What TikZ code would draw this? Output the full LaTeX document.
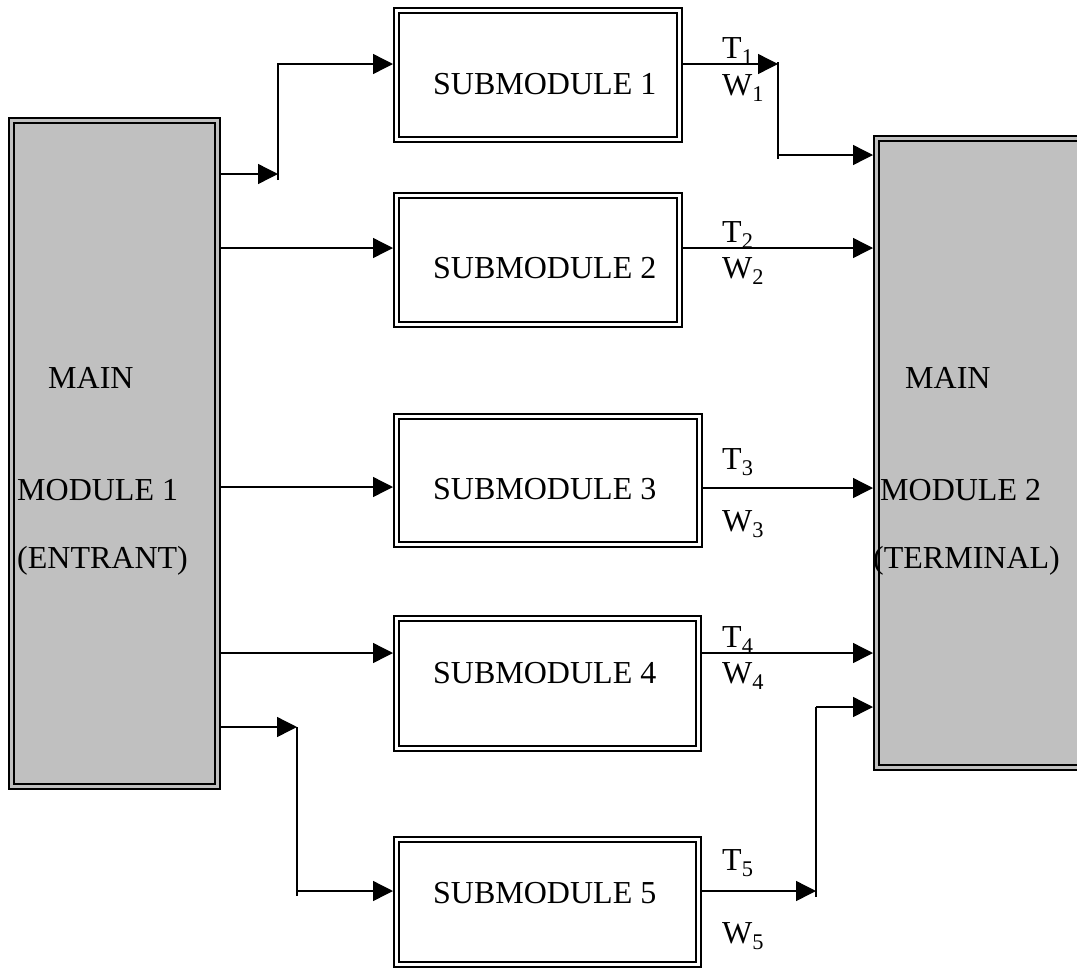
\documentclass[tikz,border=0pt]{standalone}
\usepackage{fontspec}
\setmainfont{Liberation Serif}
\usetikzlibrary{arrows.meta}
\definecolor{boxgray}{RGB}{192,192,192}
\tikzset{
  mainbox/.style={draw, line width=2.2pt, double=boxgray, double distance=2.6pt,
                  fill=boxgray, outer sep=3.5pt, inner sep=0pt},
  subbox/.style={draw, line width=2.3pt, double=white, double distance=2.4pt,
                 outer sep=3.5pt, inner sep=0pt},
  txt/.style={anchor=base west, inner sep=0pt, font=\fontsize{32}{38}\selectfont},
  wire/.style={line width=1.4pt},
  arr/.style={wire, -{Triangle[length=20pt,width=20pt]}}
}
\begin{document}
\begin{tikzpicture}[x=1pt,y=-1pt]
\useasboundingbox (0,0) rectangle (1077,970);

% main modules
\node[mainbox, minimum width=206pt, minimum height=666pt] (main1) at (114.5,453.5) {};
\node[mainbox, minimum width=205pt, minimum height=629pt] (main2) at (979,453) {};
\node[txt] (main1a) at (48,388) {MAIN};
\node[txt] (main1b) at (17,500) {MODULE 1};
\node[txt] (main1c) at (17,568) {(ENTRANT)};
\node[txt] (main2a) at (905,388) {MAIN};
\node[txt] (main2b) at (880,500) {MODULE 2};
\node[txt] (main2c) at (873,568) {(TERMINAL)};

% submodules
\node[subbox, minimum width=283pt, minimum height=129pt] (sub1) at (538,75) {};
\node[subbox, minimum width=283pt, minimum height=129pt] (sub2) at (538,260) {};
\node[subbox, minimum width=303pt, minimum height=128pt] (sub3) at (548,480.5) {};
\node[subbox, minimum width=302pt, minimum height=130pt] (sub4) at (547.5,683.5) {};
\node[subbox, minimum width=302pt, minimum height=125pt] (sub5) at (547.5,902) {};
\foreach \i/\y in {1/94, 2/278, 3/499, 4/683, 5/903}
  \node[txt] (sub\i text) at (433,\y) {SUBMODULE \i};

% main module 1 -> submodules
\coordinate (a1) at (278,174);
\coordinate (b1) at (278,64);
\draw[arr] (main1.east |- a1) -- (a1);
\draw[arr] ([yshift=-6pt]a1) -- (b1) -- (sub1.west |- b1);
\draw[arr] (main1.east |- 0,248) -- (sub2.west |- 0,248);
\draw[arr] (main1.east |- 0,487) -- (sub3.west |- 0,487);
\draw[arr] (main1.east |- 0,653) -- (sub4.west |- 0,653);
\coordinate (a5) at (297,727);
\coordinate (b5) at (297,891);
\draw[arr] (main1.east |- a5) -- (a5);
\draw[wire] (a5) -- ([yshift=-5pt]b5);
\draw[arr] (b5) -- (sub5.west |- b5);

% submodules -> main module 2
\coordinate (c1) at (778,64);
\coordinate (d1) at (778,155);
\draw[arr] (sub1.east |- c1) -- (c1);
\draw[wire] ([yshift=2pt]c1) -- ([yshift=-4pt]d1);
\draw[arr] (d1) -- (main2.west |- d1);
\draw[arr] (sub2.east |- 0,248) -- (main2.west |- 0,248);
\draw[arr] (sub3.east |- 0,488) -- (main2.west |- 0,488);
\draw[arr] (sub4.east |- 0,653) -- (main2.west |- 0,653);
\coordinate (c5) at (816,891);
\coordinate (d5) at (816,707);
\draw[arr] (sub5.east |- c5) -- (c5);
\draw[wire] ([yshift=-6pt]c5) -- (d5);
\draw[arr] (d5) -- (main2.west |- d5);

% time and weight labels
\foreach \i/\ty/\wy in {1/58/95, 2/242/278, 3/469/531, 4/647/683, 5/870/943} {
  \node[txt] (t\i) at (722,\ty) {T\textsubscript{\i}};
  \node[txt] (w\i) at (722,\wy) {W\textsubscript{\i}};
}
\end{tikzpicture}
\end{document}
